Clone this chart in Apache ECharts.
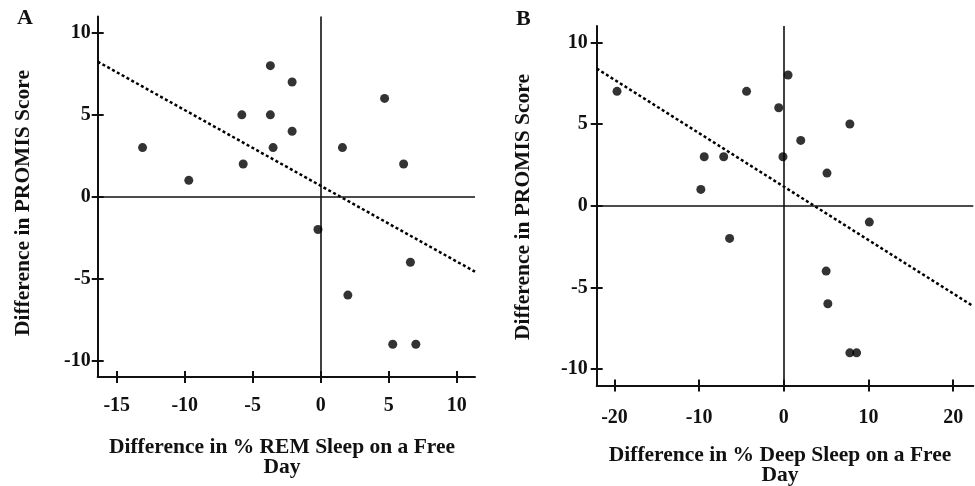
<!DOCTYPE html>
<html>
<head>
<meta charset="utf-8">
<script src="https://cdn.jsdelivr.net/npm/echarts@6/dist/echarts.min.js"></script>
<style>
  html, body { margin: 0; padding: 0; background: #fff; }
  #chart { width: 975px; height: 486px; }
</style>
</head>
<body>
<div id="chart"></div>
<script type="text/javascript">

// panel A : REM sleep
var remX = [-13.1, -9.7, -5.8, -5.7, -3.7, -3.7, -3.5, -2.1, -2.1, -0.2, 1.6, 4.7, 6.1, 6.6, 2.0, 5.3, 7.0];
var remY = [3, 1, 5, 2, 8, 5, 3, 7, 4, -2, 3, 6, 2, -4, -6, -9, -9];
var remFit = { slope: -0.462, intercept: 0.67 };
var remTicks = [-15, -10, -5, 0, 5, 10];

// panel B : deep sleep
var deepX = [-19.7, -9.4, -9.8, -7.1, -4.4, -6.4, -0.6, 0.5, -0.1, 2.0, 5.1, 7.8, 10.1, 5.0, 5.2, 7.8, 8.6];
var deepY = [7, 3, 1, 3, 7, -2, 6, 8, 3, 4, 2, 5, -1, -4, -6, -9, -9];
var deepFit = { slope: -0.327, intercept: 1.17 };
var deepTicks = [-20, -10, 0, 10, 20];

var scoreTicks = [-10, -5, 0, 5, 10];

var font = 'Liberation Serif';
var ink = '#111';

var xRange = [[-16.4, 11.35], [-22.1, 22.38]];
var yRange = [-11, 11];

function pairs(xs, ys) {
    return xs.map(function (x, i) { return [x, ys[i]]; });
}

function fitLine(fit, range) {
    return range.map(function (x) { return [x, fit.intercept + fit.slope * x]; });
}

var boxes = [
    { left: 97.7, top: 16.5, width: 377.3, height: 360.5 },
    { left: 596.7, top: 26, width: 376.6, height: 359.5 }
];

var grids = boxes.concat(boxes); // 2,3 = overlay grids for inner tick halves

function mainX(i, ticks, margin) {
    return {
        type: 'value', gridIndex: i, min: xRange[i][0], max: xRange[i][1],
        axisLine: { onZero: false, lineStyle: { color: ink, width: 2 } },
        axisTick: { customValues: ticks, length: 6, lineStyle: { color: ink, width: 2 } },
        axisLabel: { customValues: ticks, margin: margin, fontFamily: font, fontWeight: 'bold', fontSize: 20, color: ink },
        splitLine: { show: false }
    };
}

function mainY(i, margin) {
    return {
        type: 'value', gridIndex: i, min: yRange[0], max: yRange[1],
        axisLine: { onZero: false, lineStyle: { color: ink, width: 2 } },
        axisTick: { customValues: scoreTicks, length: 6, lineStyle: { color: ink, width: 2 } },
        axisLabel: { customValues: scoreTicks, margin: margin, fontFamily: font, fontWeight: 'bold', fontSize: 20, color: ink },
        splitLine: { show: false }
    };
}

function innerX(g, i, ticks) {
    return {
        type: 'value', gridIndex: g, min: xRange[i][0], max: xRange[i][1],
        axisLine: { show: false, onZero: false },
        axisTick: { inside: true, customValues: ticks, length: 6, lineStyle: { color: ink, width: 2 } },
        axisLabel: { show: false }, splitLine: { show: false }
    };
}

function innerY(g) {
    return {
        type: 'value', gridIndex: g, min: yRange[0], max: yRange[1],
        axisLine: { show: false, onZero: false },
        axisTick: { inside: true, customValues: scoreTicks, length: 6, lineStyle: { color: ink, width: 2 } },
        axisLabel: { show: false }, splitLine: { show: false }
    };
}

function dots(i, data) {
    return {
        type: 'scatter', xAxisIndex: i, yAxisIndex: i, data: data,
        symbolSize: 9, itemStyle: { color: '#000' }, silent: true, z: 5,
        markLine: {
            silent: true, symbol: 'none', animation: false,
            label: { show: false },
            lineStyle: { color: ink, width: 1.6, type: 'solid' },
            data: [{ xAxis: 0 }, { yAxis: 0 }]
        }
    };
}

function dotted(i, data) {
    return {
        type: 'line', xAxisIndex: i, yAxisIndex: i, data: data,
        showSymbol: false, silent: true, z: 4,
        lineStyle: { color: '#000', width: 2.5, type: [3, 2.5] }
    };
}

var titleFont = 'bold 21.5px "Liberation Serif"';

function label(text, x, y, rotated) {
    return {
        type: 'text', x: x, y: y, rotation: rotated ? Math.PI / 2 : 0, silent: true,
        style: { text: text, font: titleFont, fill: ink, align: 'center', verticalAlign: 'middle', lineHeight: 20 }
    };
}

var option = {
    animation: false,
    grid: grids,
    xAxis: [
        mainX(0, remTicks, 19),
        mainX(1, deepTicks, 22),
        innerX(2, 0, remTicks),
        innerX(3, 1, deepTicks)
    ],
    yAxis: [
        mainY(0, 7),
        mainY(1, 9),
        innerY(2),
        innerY(3)
    ],
    graphic: [
        { type: 'text', left: 17, top: 7, style: { text: 'A', font: 'bold 22px "Liberation Serif"', fill: ink } },
        { type: 'text', left: 516, top: 8, style: { text: 'B', font: 'bold 22px "Liberation Serif"', fill: ink } },
        label('Difference in PROMIS Score', 23, 203, true),
        label('Difference in PROMIS Score', 523, 207, true),
        label('Difference in % REM Sleep on a Free\nDay', 282, 457, false),
        label('Difference in % Deep Sleep on a Free\nDay', 780, 465, false)
    ],
    series: [
        dots(0, pairs(remX, remY)),
        dotted(0, fitLine(remFit, xRange[0])),
        dots(1, pairs(deepX, deepY)),
        dotted(1, fitLine(deepFit, xRange[1]))
    ]
};

var chart = echarts.init(document.getElementById('chart'));
chart.setOption(option);

</script>
</body>
</html>
